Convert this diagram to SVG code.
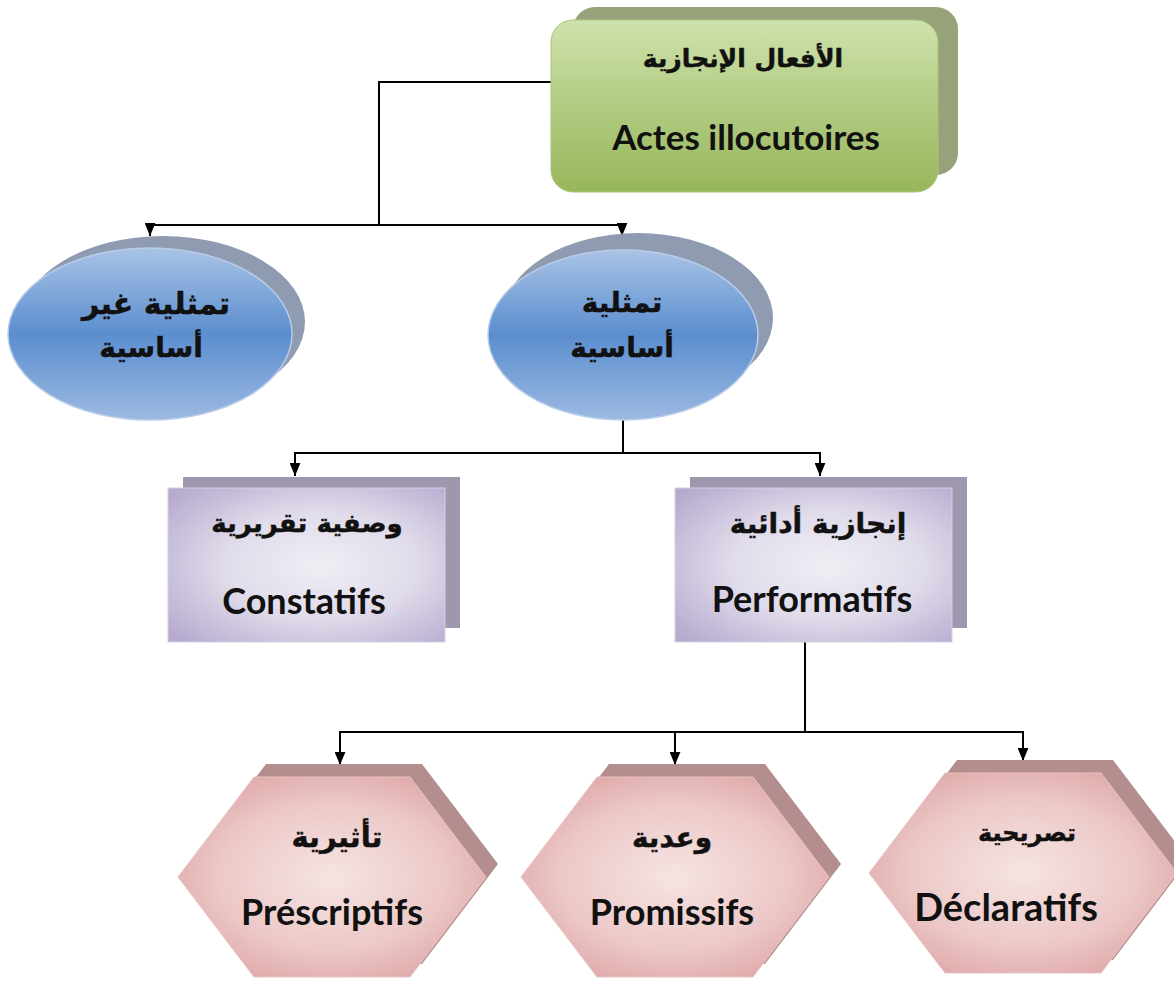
<svg xmlns="http://www.w3.org/2000/svg" width="1174" height="983" viewBox="0 0 1174 983">
<defs>
<linearGradient id="gGreen" x1="0" y1="0" x2="0" y2="1">
<stop offset="0" stop-color="#d0e2ac"/>
<stop offset="0.45" stop-color="#b4cd86"/>
<stop offset="1" stop-color="#97b75b"/>
</linearGradient>
<linearGradient id="gBlue" x1="0" y1="0" x2="0" y2="1">
<stop offset="0" stop-color="#a9c3e6"/>
<stop offset="0.5" stop-color="#5b8ecf"/>
<stop offset="1" stop-color="#9db9e2"/>
</linearGradient>
<radialGradient id="gPurple" cx="0.55" cy="0.5" r="0.7">
<stop offset="0" stop-color="#f1eef5"/>
<stop offset="0.5" stop-color="#e0dbea"/>
<stop offset="1" stop-color="#b6aacf"/>
</radialGradient>
<radialGradient id="gPink" cx="0.5" cy="0.5" r="0.6">
<stop offset="0" stop-color="#f5e4e3"/>
<stop offset="0.6" stop-color="#ecc9c8"/>
<stop offset="1" stop-color="#dda5a4"/>
</radialGradient>
<marker id="arrDown" viewBox="0 0 10 12" refX="5" refY="12" markerWidth="11" markerHeight="13" markerUnits="userSpaceOnUse" orient="0">
<path d="M0,0 L10,0 L5,12 Z" fill="#000"/>
</marker>
</defs>
<style>
.ar{font-family:"DejaVu Sans",sans-serif;font-weight:bold;fill:#111;stroke:#111;stroke-width:0.5;text-anchor:middle;dominant-baseline:central}
.en{font-family:Lato,"Liberation Sans",sans-serif;font-weight:bold;fill:#111;text-anchor:middle}
.sGreen{fill:#97a27a}
.sBlue{fill:#8f9bb0}
.sPurple{fill:#9f97ad}
.sPink{fill:#b48d8e}
.conn{fill:none;stroke:#000;stroke-width:2}
</style>
<rect width="1174" height="983" fill="#fff"/>

<g id="connectors">
<path class="conn" d="M551,82 H379 V225"/>
<path class="conn" d="M379,225 H150 V236" marker-end="url(#arrDown)"/>
<path class="conn" d="M379,225 H622 V236" marker-end="url(#arrDown)"/>
<path class="conn" d="M623,420 V453"/>
<path class="conn" d="M623,453 H295 V476" marker-end="url(#arrDown)"/>
<path class="conn" d="M623,453 H820 V476" marker-end="url(#arrDown)"/>
<path class="conn" d="M805,642 V732"/>
<path class="conn" d="M805,732 H340 V765" marker-end="url(#arrDown)"/>
<path class="conn" d="M805,732 H675 V765" marker-end="url(#arrDown)"/>
<path class="conn" d="M805,732 H1023 V761" marker-end="url(#arrDown)"/>
</g>

<g id="root">
<rect class="sGreen" x="573" y="7" width="385" height="168" rx="22"/>
<rect x="551" y="20" width="387" height="172" rx="22" fill="url(#gGreen)" stroke="#a9c57a" stroke-width="1"/>
<text class="ar" x="743" y="58" font-size="25">الأفعال الإنجازية</text>
<text class="en" x="746" y="150" font-size="35">Actes illocutoires</text>
</g>

<g id="non-basic">
<ellipse class="sBlue" cx="163" cy="322" rx="142" ry="86"/>
<ellipse cx="150" cy="334" rx="142" ry="86" fill="url(#gBlue)" stroke="#b9cde9" stroke-width="1.5"/>
<text class="ar" x="156" y="303" font-size="30">تمثلية غير</text>
<text class="ar" x="151" y="347" font-size="28">أساسية</text>
</g>

<g id="basic">
<ellipse class="sBlue" cx="638" cy="318" rx="135" ry="85"/>
<ellipse cx="623" cy="335" rx="135" ry="85" fill="url(#gBlue)" stroke="#b9cde9" stroke-width="1.5"/>
<text class="ar" x="622" y="302" font-size="28">تمثلية</text>
<text class="ar" x="622" y="347" font-size="28">أساسية</text>
</g>

<g id="constatifs">
<rect class="sPurple" x="183" y="477" width="277" height="151"/>
<rect x="168" y="488" width="277" height="154" fill="url(#gPurple)" stroke="#d6d0e2" stroke-width="1"/>
<text class="ar" x="307" y="523" font-size="26">وصفية تقريرية</text>
<text class="en" x="304" y="614" font-size="36">Constatifs</text>
</g>

<g id="performatifs">
<rect class="sPurple" x="690" y="477" width="277" height="151"/>
<rect x="675" y="488" width="277" height="154" fill="url(#gPurple)" stroke="#d6d0e2" stroke-width="1"/>
<text class="ar" x="818" y="523" font-size="28">إنجازية أدائية</text>
<text class="en" x="812" y="612" font-size="36">Performatifs</text>
</g>

<g id="prescriptifs">
<polygon class="sPink" points="266,764 422,764 498,864 422,964 266,964 190,864"/>
<polygon points="254,777 410,777 486,877 410,977 254,977 178,877" fill="url(#gPink)" stroke="#e8c4c3" stroke-width="1"/>
<text class="ar" x="337" y="837" font-size="29">تأثيرية</text>
<text class="en" x="332" y="925" font-size="36">Préscriptifs</text>
</g>

<g id="promissifs">
<polygon class="sPink" points="609,764 765,764 841,864 765,964 609,964 533,864"/>
<polygon points="597,777 753,777 829,877 753,977 597,977 521,877" fill="url(#gPink)" stroke="#e8c4c3" stroke-width="1"/>
<text class="ar" x="672" y="837" font-size="28">وعدية</text>
<text class="en" x="672" y="925" font-size="36">Promissifs</text>
</g>

<g id="declaratifs">
<polygon class="sPink" points="957,760 1113,760 1189,860 1113,960 957,960 881,860"/>
<polygon points="945,773 1101,773 1177,873 1101,973 945,973 869,873" fill="url(#gPink)" stroke="#e8c4c3" stroke-width="1"/>
<text class="ar" x="1027" y="833" font-size="24">تصريحية</text>
<text class="en" x="1006" y="921" font-size="38">Déclaratifs</text>
</g>
</svg>
